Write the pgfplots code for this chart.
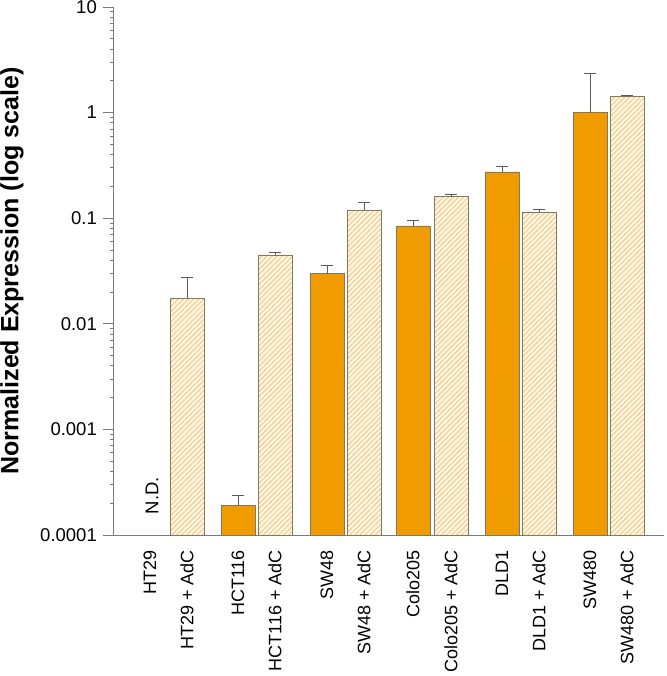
\documentclass[border=0pt]{standalone}
\usepackage{fontspec}
\setmainfont{Liberation Sans}
\usepackage{pgfplots}
\usepackage{pgfplotstable}
\pgfplotsset{compat=1.18}
\usetikzlibrary{patterns.meta}
\definecolor{orangebar}{HTML}{F09B00}
\definecolor{cream}{HTML}{FFF7E6}
\definecolor{hatch}{HTML}{F2C983}
\definecolor{edge}{HTML}{857660}
\definecolor{axgray}{HTML}{7A7A7A}
\definecolor{errgray}{HTML}{5A5A5A}

\pgfplotstableread{
x y err
238 0.000192 0.000047
327 0.0298 0.006
413 0.0844 0.011
502 0.274 0.032
590 1.0 1.36
}\solid
\pgfplotstableread{
x y err
187 0.0175 0.0098
275 0.0449 0.0021
364 0.119 0.023
451 0.160 0.007
539 0.114 0.008
627 1.41 0.05
}\treated

\begin{document}
\fontsize{18}{21}\selectfont
\begin{tikzpicture}
\begin{axis}[
  scale only axis,
  width=551pt, height=528pt,
  xmin=113, xmax=664,
  ymode=log, ymin=1e-4, ymax=10,
  log origin=infty,
  axis lines*=left,
  axis line style={axgray, line width=0.8pt},
  ytick={1e-4,1e-3,1e-2,1e-1,1,10},
  yticklabels={0.0001,0.001,0.01,0.1,1,10},
  minor ytick={},
  ytick style={axgray, line width=0.8pt},
  tick align=outside,
  major tick length=10pt,
  xtick={150,187,238,275,327,364,413,451,502,539,590,627},
  xticklabels={HT29,HT29 + AdC,HCT116,HCT116 + AdC,SW48,SW48 + AdC,Colo205,Colo205 + AdC,DLD1,DLD1 + AdC,SW480,SW480 + AdC},
  xtick style={draw=none},
  tick label style={font=\fontsize{18.5}{21}\selectfont},
  x tick label style={rotate=90, anchor=east, xshift=1pt, font=\fontsize{18}{21}\selectfont},
  /pgf/number format/assume math mode=true,
  ylabel={\bfseries Normalized Expression (log scale)},
  ylabel style={font=\fontsize{25}{28}\selectfont, at={(axis description cs:0,0.5)}, anchor=center, rotate=0, xshift=0pt, yshift=101pt},
  ybar, bar shift=0pt, bar width=34,
  clip=false,
]
\addplot[fill=orangebar, draw=edge, line width=0.7pt,
  error bars/.cd, y dir=plus, y explicit,
  error bar style={errgray, line width=0.9pt},
  error mark options={rotate=90, mark size=6pt, errgray, line width=0.9pt}]
  table[x=x, y=y, y error=err]{\solid};
\addplot[fill=cream, draw=edge, line width=0.7pt,
  postaction={pattern={Lines[angle=45,distance=3.6pt,line width=1pt]}, pattern color=hatch},
  error bars/.cd, y dir=plus, y explicit,
  error bar style={errgray, line width=0.9pt},
  error mark options={rotate=90, mark size=6pt, errgray, line width=0.9pt}]
  table[x=x, y=y, y error=err]{\treated};
\node[rotate=90, font=\fontsize{18.5}{21}\selectfont] at (axis cs:152,2.35e-4) {N.D.};
\end{axis}
\pgfresetboundingbox
\path (-113pt,-141pt) rectangle (553pt,535pt);
\end{tikzpicture}
\end{document}
